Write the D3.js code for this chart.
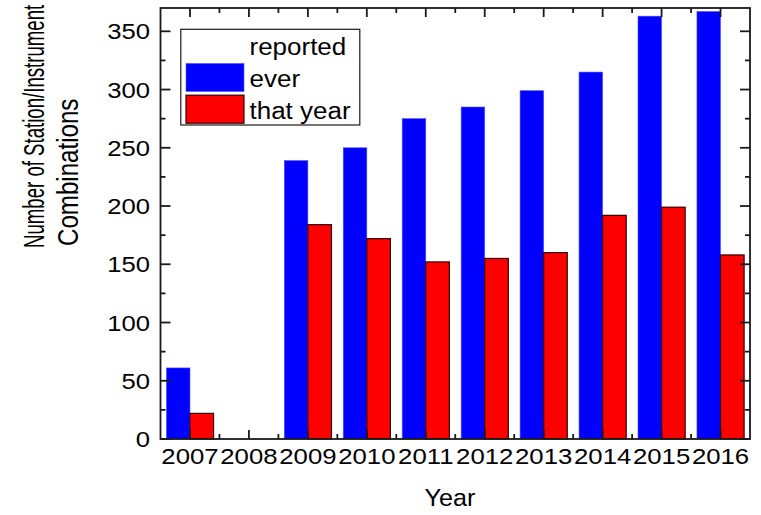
<!DOCTYPE html>
<html><head><meta charset="utf-8">
<script src="https://cdn.jsdelivr.net/npm/d3@7"></script>
<style>
body{margin:0;background:#fff;}
svg text{font-family:"Liberation Sans",Arial,sans-serif;fill:#000;}
</style></head>
<body><svg id="c" width="761" height="515"></svg>
<script>
const years = [2007,2008,2009,2010,2011,2012,2013,2014,2015,2016];
const reportedEver = [61,0,239,250,275,285,299,315,363,367];
const reportedThatYear = [22,0,184,172,152,155,160,192,199,158];
const yTicks = [0,50,100,150,200,250,300,350];
const legendTitle = "reported";
const seriesNames = ["ever","that year"];
const seriesColors = ["#0000ff","#ff0000"];
const xTitle = "Year";
const yTitleLines = ["Number of Station/Instrument","Combinations"];

const W=761,H=515;
const m={l:160.5,t:8,r:11,b:76};
const svg=d3.select("#c");
const x=d3.scaleLinear().domain([years[0]-0.5, years[years.length-1]+0.5]).range([m.l, W-m.r]);
const y=d3.scaleLinear().domain([0,370]).range([H-m.b, m.t]);
const bw=0.4;

function stext(parent, tx, ty, str, size, anchor, sx){
  return parent.append("text")
    .attr("transform",`translate(${tx},${ty}) scale(${sx},1)`)
    .attr("text-anchor",anchor).style("font-size",size+"px").text(str);
}

// bars
const g=svg.append("g");
g.selectAll("rect.ever").data(years.map((yr,i)=>({yr,v:reportedEver[i]}))).join("rect")
 .attr("class","ever")
 .attr("x",d=>x(d.yr-bw)).attr("width",d=>x(d.yr)-x(d.yr-bw))
 .attr("y",d=>y(d.v)).attr("height",d=>y(0)-y(d.v))
 .attr("fill",seriesColors[0]).attr("stroke","#5050ff").attr("stroke-width",0.6);
g.selectAll("rect.that").data(years.map((yr,i)=>({yr,v:reportedThatYear[i]}))).join("rect")
 .attr("class","that")
 .attr("x",d=>x(d.yr)).attr("width",d=>x(d.yr+bw)-x(d.yr))
 .attr("y",d=>y(d.v)).attr("height",d=>y(0)-y(d.v))
 .attr("fill",seriesColors[1]).attr("stroke","#300").attr("stroke-width",1.2);

// axes
const x0=x.range()[0], x1=x.range()[1], y0=y.range()[0], y1=y.range()[1];
const ax=svg.append("g").attr("stroke","#1a1a1a").attr("stroke-width",1.8);
const minorY=d3.range(25,370,50);
const minorX=years.slice(0,-1).map(v=>v+0.5);
yTicks.forEach(v=>{
  ax.append("line").attr("x1",x0).attr("x2",x0+10).attr("y1",y(v)).attr("y2",y(v));
  ax.append("line").attr("x1",x1).attr("x2",x1-10).attr("y1",y(v)).attr("y2",y(v));
});
minorY.forEach(v=>{
  ax.append("line").attr("x1",x0).attr("x2",x0+5).attr("y1",y(v)).attr("y2",y(v));
  ax.append("line").attr("x1",x1).attr("x2",x1-5).attr("y1",y(v)).attr("y2",y(v));
});
years.forEach(v=>{
  ax.append("line").attr("x1",x(v)).attr("x2",x(v)).attr("y1",y0).attr("y2",y0-9);
  ax.append("line").attr("x1",x(v)).attr("x2",x(v)).attr("y1",y1).attr("y2",y1+9);
});
minorX.forEach(v=>{
  ax.append("line").attr("x1",x(v)).attr("x2",x(v)).attr("y1",y0).attr("y2",y0-5);
  ax.append("line").attr("x1",x(v)).attr("x2",x(v)).attr("y1",y1).attr("y2",y1+5);
});
ax.append("rect").attr("x",x0).attr("y",y1).attr("width",x1-x0).attr("height",y0-y1).attr("fill","none");

// tick labels
const yl=svg.append("g");
yTicks.forEach(v=>stext(yl, x0-10.5, y(v)+8, v, 22.5, "end", 1.14));
const xl=svg.append("g");
years.forEach(v=>stext(xl, x(v), y0+25, v, 23, "middle", 1.12));

// titles
stext(svg, 450, H-9, xTitle, 24, "middle", 1.05);
svg.append("text").attr("transform",`translate(44,248) rotate(-90) scale(0.745,1.16)`)
 .attr("text-anchor","start").style("font-size","25px").text(yTitleLines[0]);
svg.append("text").attr("transform",`translate(78,246) rotate(-90) scale(0.965,1.16)`)
 .attr("text-anchor","start").style("font-size","25px").text(yTitleLines[1]);

// legend
const lg=svg.append("g");
lg.append("rect").attr("x",x0+20.3).attr("y",y1+21.3).attr("width",179).attr("height",95.7)
 .attr("fill","#fff").attr("stroke","#1a1a1a").attr("stroke-width",1.2);
stext(lg, x0+89, y1+47, legendTitle, 23, "start", 1.13);
seriesNames.forEach((n,i)=>{
  lg.append("rect").attr("x",x0+25.5).attr("y",y1+55.5+i*31.7).attr("width",58).attr("height",28)
    .attr("fill",seriesColors[i]).attr("stroke",i? "#300":"#5050ff").attr("stroke-width",i?1.2:0.6);
  stext(lg, x0+89, y1+79+i*31.5, n, 23, "start", 1.13);
});
</script></body></html>
